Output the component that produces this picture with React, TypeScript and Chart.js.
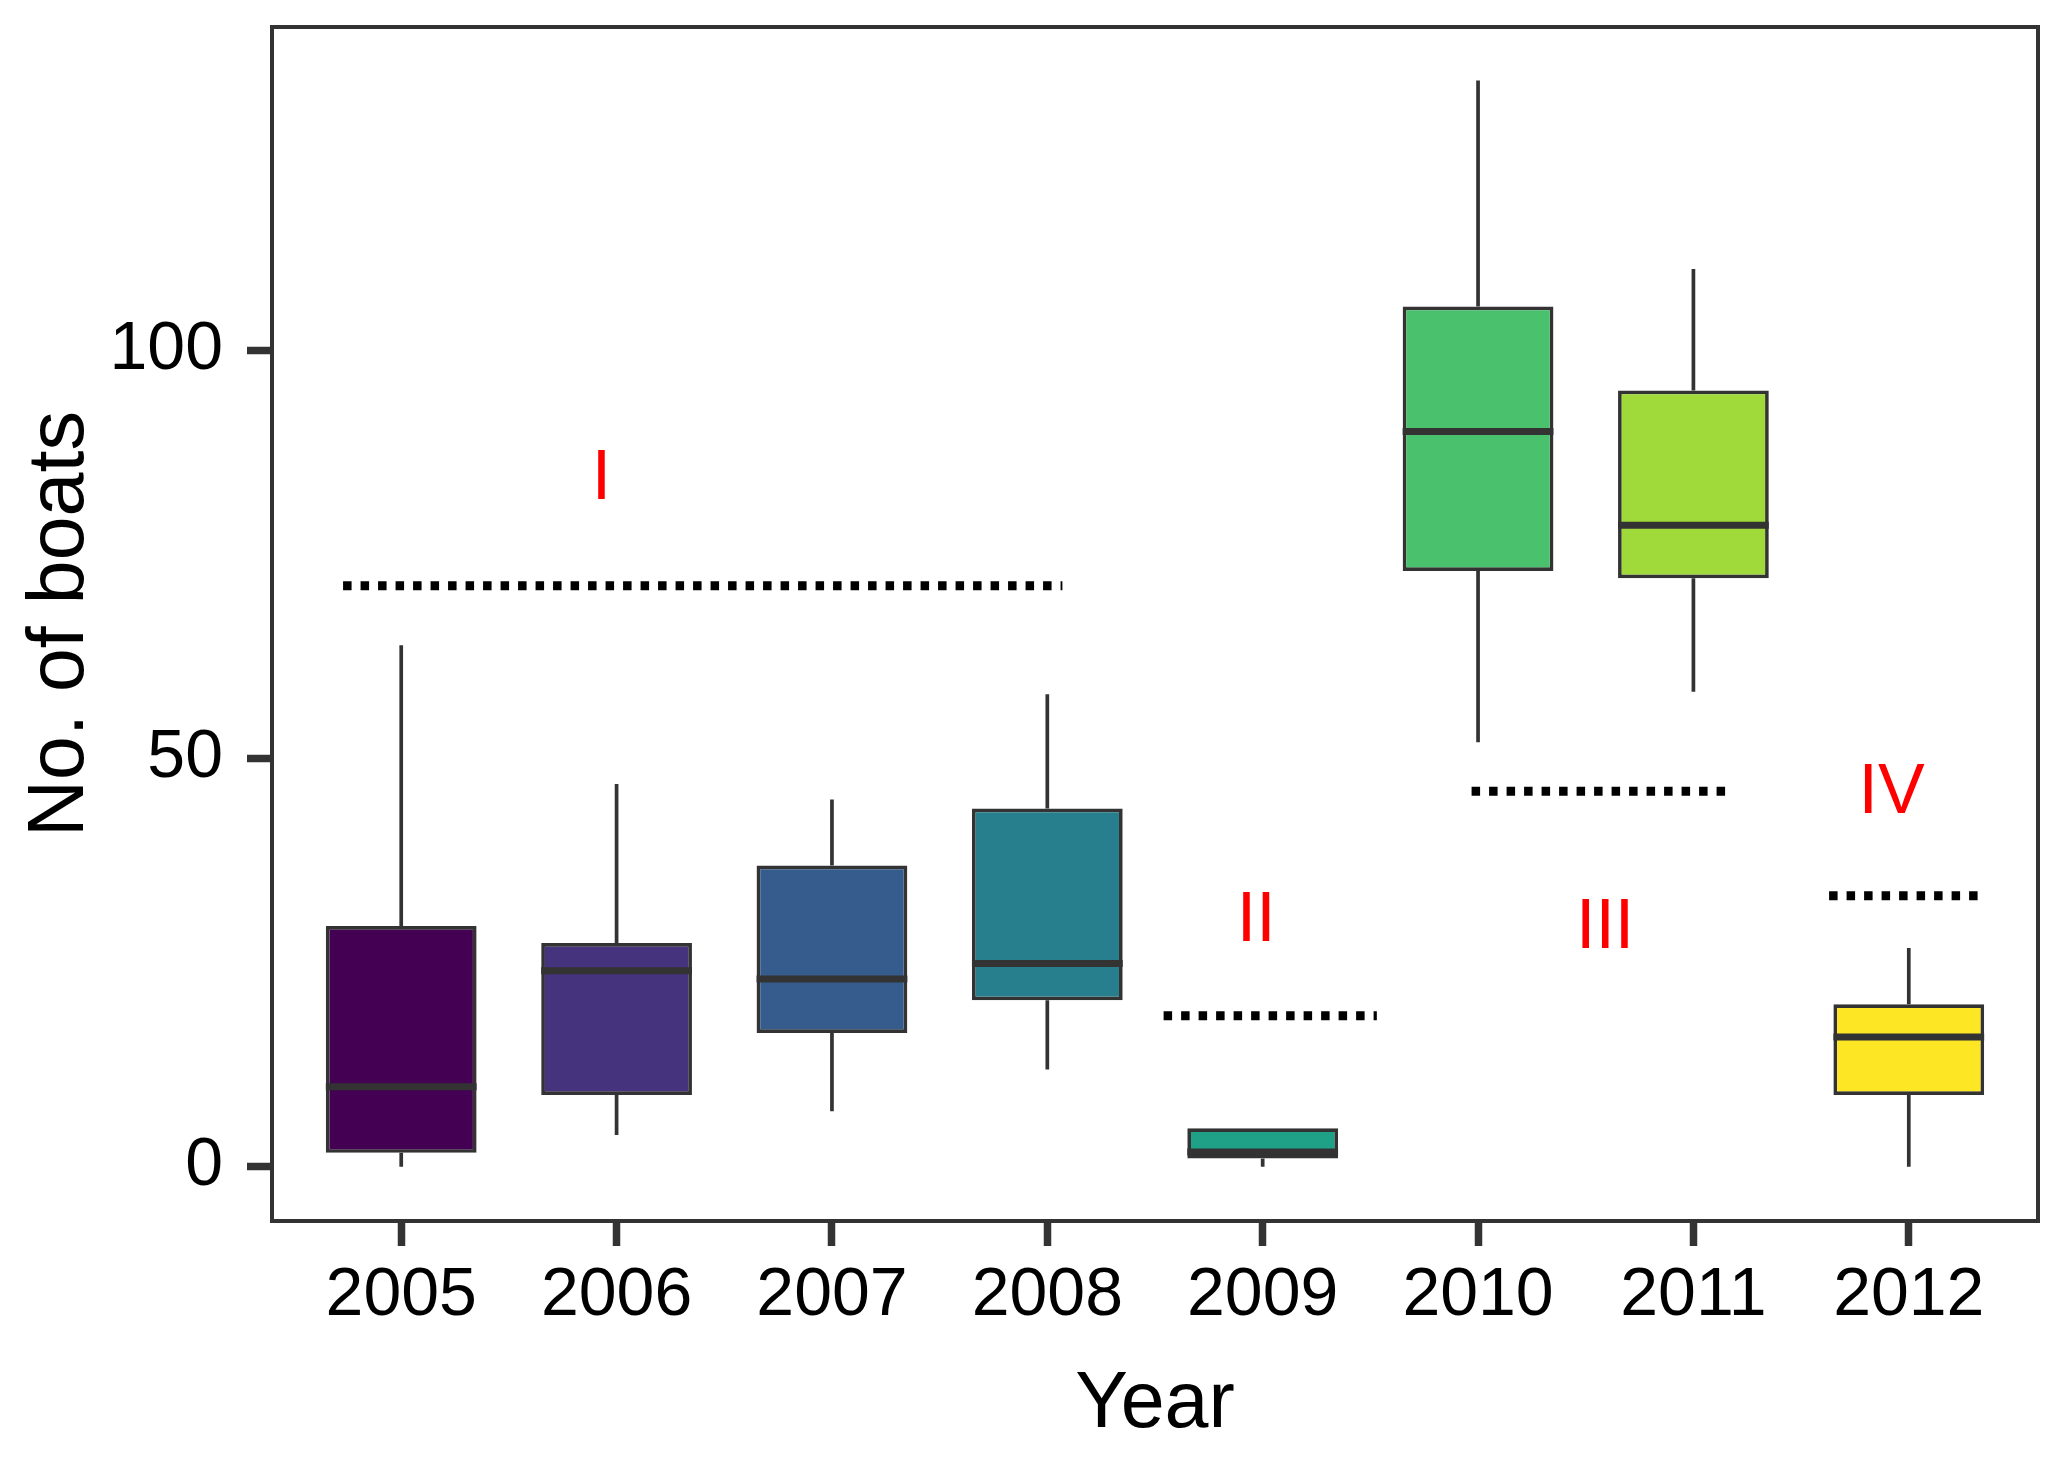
import React, { useEffect, useRef } from 'react';
import { Chart, registerables } from 'chart.js';

Chart.register(...registerables);

const FONT = '"Liberation Sans", Arial, Helvetica, sans-serif';

// Categories
const years = ['2005', '2006', '2007', '2008', '2009', '2010', '2011', '2012'];

// Box-plot statistics (No. of boats)
const whiskerLow = [0, 3.9, 6.8, 11.9, 0, 52.0, 58.2, 0];
const q1 = [1.7, 8.8, 16.4, 20.4, 1.0, 73.0, 72.1, 8.8];
const median = [9.8, 24.0, 23.0, 24.9, 1.8, 90.1, 78.6, 15.9];
const q3 = [29.5, 27.4, 36.9, 43.9, 4.7, 105.4, 95.1, 19.9];
const whiskerHigh = [63.9, 46.9, 45.0, 57.9, 4.7, 133.1, 110.0, 26.8];

const boxColors = ['#440154', '#46337E', '#365C8D', '#277F8E', '#1FA187', '#4AC16D', '#9FDA3A', '#FDE725'];

// Y tick values
const yTicks = [0, 50, 100];

// Group annotations
const groupNames = ['I', 'II', 'III', 'IV'];
const groupLabelX = [0.93, 3.97, 5.59, 6.92];
const groupLabelY = [84.2, 30.0, 29.2, 45.7];
const groupLineStart = [-0.27, 3.54, 4.97, 6.63];
const groupLineEnd = [3.07, 4.53, 6.16, 7.32];
const groupLineY = [71.2, 18.5, 46.0, 33.2];

const boxExtras = {
  id: 'boxExtras',
  beforeDatasetsDraw(chart: any) {
    const { ctx, scales } = chart;
    const x = scales.x;
    const y = scales.y;
    ctx.save();
    ctx.strokeStyle = '#333333';
    ctx.lineWidth = 3.7;
    ctx.lineCap = 'butt';
    years.forEach((_, i) => {
      const px = x.getPixelForValue(i);
      ctx.beginPath();
      ctx.moveTo(px, y.getPixelForValue(q3[i]));
      ctx.lineTo(px, y.getPixelForValue(whiskerHigh[i]));
      ctx.moveTo(px, y.getPixelForValue(q1[i]));
      ctx.lineTo(px, y.getPixelForValue(whiskerLow[i]));
      ctx.stroke();
    });
    ctx.restore();
  },
  afterDatasetsDraw(chart: any) {
    const { ctx, scales } = chart;
    const x = scales.x;
    const y = scales.y;
    const meta = chart.getDatasetMeta(0);
    ctx.save();
    ctx.strokeStyle = '#333333';
    ctx.lineWidth = 7;
    ctx.lineCap = 'butt';
    meta.data.forEach((bar: any, i: number) => {
      const { x: bx, width } = bar.getProps(['x', 'width'], true);
      const py = y.getPixelForValue(median[i]);
      ctx.beginPath();
      ctx.moveTo(bx - width / 2, py);
      ctx.lineTo(bx + width / 2, py);
      ctx.stroke();
    });
    ctx.fillStyle = '#FF0000';
    ctx.font = `70px ${FONT}`;
    ctx.textAlign = 'center';
    ctx.textBaseline = 'middle';
    groupNames.forEach((name, i) => {
      ctx.fillText(name, x.getPixelForValue(groupLabelX[i]), y.getPixelForValue(groupLabelY[i]));
    });
    ctx.restore();
  },
  afterDraw(chart: any) {
    const { ctx, chartArea } = chart;
    ctx.save();
    ctx.strokeStyle = '#333333';
    ctx.lineWidth = 4;
    ctx.strokeRect(chartArea.left, chartArea.top, chartArea.right - chartArea.left, chartArea.bottom - chartArea.top);
    ctx.restore();
  },
};

export default function App() {
  const canvasRef = useRef<HTMLCanvasElement | null>(null);

  useEffect(() => {
    if (!canvasRef.current) return;
    const lineSets = groupNames.map((name, i) => ({
      type: 'line' as const,
      label: name,
      data: [
        { x: groupLineStart[i], y: groupLineY[i] },
        { x: groupLineEnd[i], y: groupLineY[i] },
      ],
      borderColor: '#000000',
      borderWidth: 9,
      borderDash: [8.5, 9],
      borderCapStyle: 'butt' as const,
      pointRadius: 0,
      fill: false,
      tension: 0,
    }));

    const chart = new Chart(canvasRef.current, {
      type: 'bar',
      data: {
        datasets: [
          {
            type: 'bar' as const,
            label: 'boxes',
            data: years.map((_, i) => ({ x: i, y: [q1[i], q3[i]] })) as any,
            backgroundColor: boxColors,
            borderColor: '#333333',
            borderWidth: 3.7,
            borderSkipped: false,
            barPercentage: 0.7,
            categoryPercentage: 1,
          },
          ...(lineSets as any),
        ],
      },
      plugins: [boxExtras],
      options: {
        animation: false,
        responsive: false,
        maintainAspectRatio: false,
        devicePixelRatio: 1,
        layout: { padding: { top: 27, right: 26, left: 0, bottom: 0 } },
        plugins: {
          legend: { display: false },
          tooltip: { enabled: false },
        },
        scales: {
          x: {
            type: 'linear',
            min: -0.6,
            max: 7.6,
            offset: false,
            afterFit: (scale: any) => {
              scale.height = 239;
              scale.paddingLeft = 0;
              scale.paddingRight = 0;
            },
            afterBuildTicks: (scale: any) => {
              scale.ticks = years.map((_, i) => ({ value: i }));
            },
            border: { display: false },
            grid: {
              offset: false,
              drawOnChartArea: false,
              drawTicks: true,
              tickLength: 25,
              tickWidth: 7.5,
              tickColor: '#333333',
            },
            ticks: {
              autoSkip: false,
              maxRotation: 0,
              padding: 16,
              color: '#000000',
              font: { family: FONT, size: 68, lineHeight: 1 },
              callback: (v: any) => years[v] ?? '',
            },
            title: {
              display: true,
              text: 'Year',
              color: '#000000',
              font: { family: FONT, size: 79, lineHeight: 1 },
              padding: { top: 0, bottom: 15 },
            },
          },
          y: {
            type: 'linear',
            min: -6.65,
            max: 139.65,
            afterFit: (scale: any) => {
              scale.width = 272;
              scale.paddingTop = 0;
              scale.paddingBottom = 0;
            },
            afterBuildTicks: (scale: any) => {
              scale.ticks = yTicks.map((v) => ({ value: v }));
            },
            border: { display: false },
            grid: {
              drawOnChartArea: false,
              drawTicks: true,
              tickLength: 25,
              tickWidth: 7.5,
              tickColor: '#333333',
            },
            ticks: {
              padding: 24,
              color: '#000000',
              font: { family: FONT, size: 68, lineHeight: 1 },
              callback: (v: any) => String(v),
            },
            title: {
              display: true,
              text: 'No. of boats',
              color: '#000000',
              font: { family: FONT, size: 79, lineHeight: 1 },
              padding: { top: 22, bottom: 0 },
            },
          },
        },
      } as any,
    });
    return () => chart.destroy();
  }, []);

  return (
    <div style={{ position: 'fixed', left: 0, top: 0, width: 2064, height: 1460, background: '#ffffff' }}>
      <canvas ref={canvasRef} width={2064} height={1460} style={{ width: 2064, height: 1460, display: 'block' }} />
    </div>
  );
}
